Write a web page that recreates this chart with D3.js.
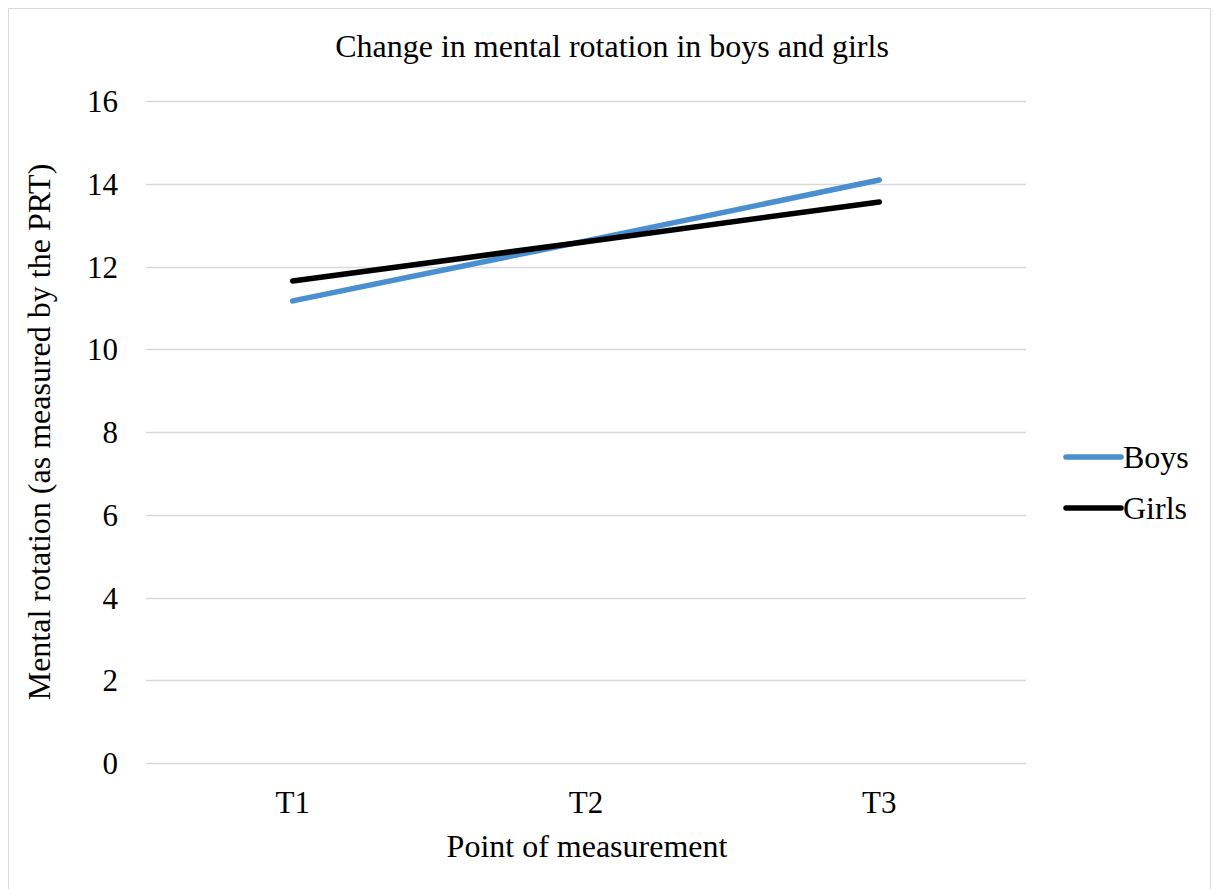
<!DOCTYPE html>
<html>
<head>
<meta charset="utf-8">
<script src="https://cdn.jsdelivr.net/npm/d3@7"></script>
<style>
  html, body { margin: 0; padding: 0; background: #fff; }
  svg { display: block; }
  text { font-family: "Liberation Serif", "Times New Roman", serif; fill: #000; }
</style>
</head>
<body>
<svg id="chart" width="1214" height="889"></svg>
<script>
// Mean PRT scores per measurement point
const categories = ["T1", "T2", "T3"];
const boys = [11.17, 12.62, 14.09];
const girls = [11.65, 12.6, 13.56];
const yTicks = [0, 2, 4, 6, 8, 10, 12, 14, 16];

const seriesList = [
  { name: "Boys", values: boys, color: "#4a8fcf" },
  { name: "Girls", values: girls, color: "#000000" }
];

const svg = d3.select("#chart");

// outer chart frame
svg.append("rect")
  .attr("x", 8.5).attr("y", 8.5)
  .attr("width", 1202).attr("height", 890)
  .attr("fill", "#fff").attr("stroke", "#d9d9d9").attr("stroke-width", 1);

const plot = { left: 146, right: 1026, top: 101, bottom: 763 };

const x = d3.scaleBand().domain(categories).range([plot.left, plot.right]);
const y = d3.scaleLinear().domain([0, 16]).range([plot.bottom, plot.top]);

// horizontal gridlines
svg.append("g")
  .selectAll("line")
  .data(yTicks)
  .join("line")
  .attr("x1", plot.left).attr("x2", plot.right)
  .attr("y1", d => Math.round(y(d)) + 0.5).attr("y2", d => Math.round(y(d)) + 0.5)
  .attr("stroke", "#d9d9d9").attr("stroke-width", 1.3);

// y tick labels
const yAxis = d3.axisLeft(y).tickValues(yTicks).tickSize(0).tickPadding(0);
const gy = svg.append("g").attr("transform", `translate(${118},0)`).call(yAxis);
gy.select(".domain").remove();
gy.selectAll("text")
  .attr("font-size", 31).attr("dy", "0.34em")
  .style("font-family", "'Liberation Serif', 'Times New Roman', serif")
  .attr("fill", "#000");

// x tick labels
const xAxis = d3.axisBottom(x).tickSize(0).tickPadding(0);
const gx = svg.append("g").attr("transform", `translate(0,${813})`).call(xAxis);
gx.select(".domain").remove();
gx.selectAll("text")
  .attr("font-size", 31).attr("dy", "0")
  .style("font-family", "'Liberation Serif', 'Times New Roman', serif")
  .attr("fill", "#000");

// series lines
const line = d3.line()
  .x((d, i) => x(categories[i]) + x.bandwidth() / 2)
  .y(d => y(d));

svg.append("g")
  .selectAll("path")
  .data(seriesList)
  .join("path")
  .attr("d", d => line(d.values))
  .attr("fill", "none")
  .attr("stroke", d => d.color)
  .attr("stroke-width", 5.5)
  .attr("stroke-linecap", "round")
  .attr("stroke-linejoin", "round");

// title
svg.append("text")
  .attr("x", 612).attr("y", 57)
  .attr("text-anchor", "middle")
  .attr("font-size", 32)
  .text("Change in mental rotation in boys and girls");

// axis titles
svg.append("text")
  .attr("x", 587).attr("y", 857)
  .attr("text-anchor", "middle")
  .attr("font-size", 32)
  .text("Point of measurement");

svg.append("text")
  .attr("transform", `translate(50,${(plot.top + plot.bottom) / 2}) rotate(-90)`)
  .attr("text-anchor", "middle")
  .attr("font-size", 32)
  .text("Mental rotation (as measured by the PRT)");

// legend
const legend = svg.append("g")
  .selectAll("g")
  .data(seriesList)
  .join("g")
  .attr("transform", (d, i) => `translate(1066,${457 + i * 51})`);

legend.append("line")
  .attr("x1", 0).attr("x2", 55)
  .attr("stroke", d => d.color)
  .attr("stroke-width", 5.5)
  .attr("stroke-linecap", "round");

legend.append("text")
  .attr("x", 57).attr("y", 0).attr("dy", "0.35em")
  .attr("font-size", 32)
  .text(d => d.name);
</script>
</body>
</html>
